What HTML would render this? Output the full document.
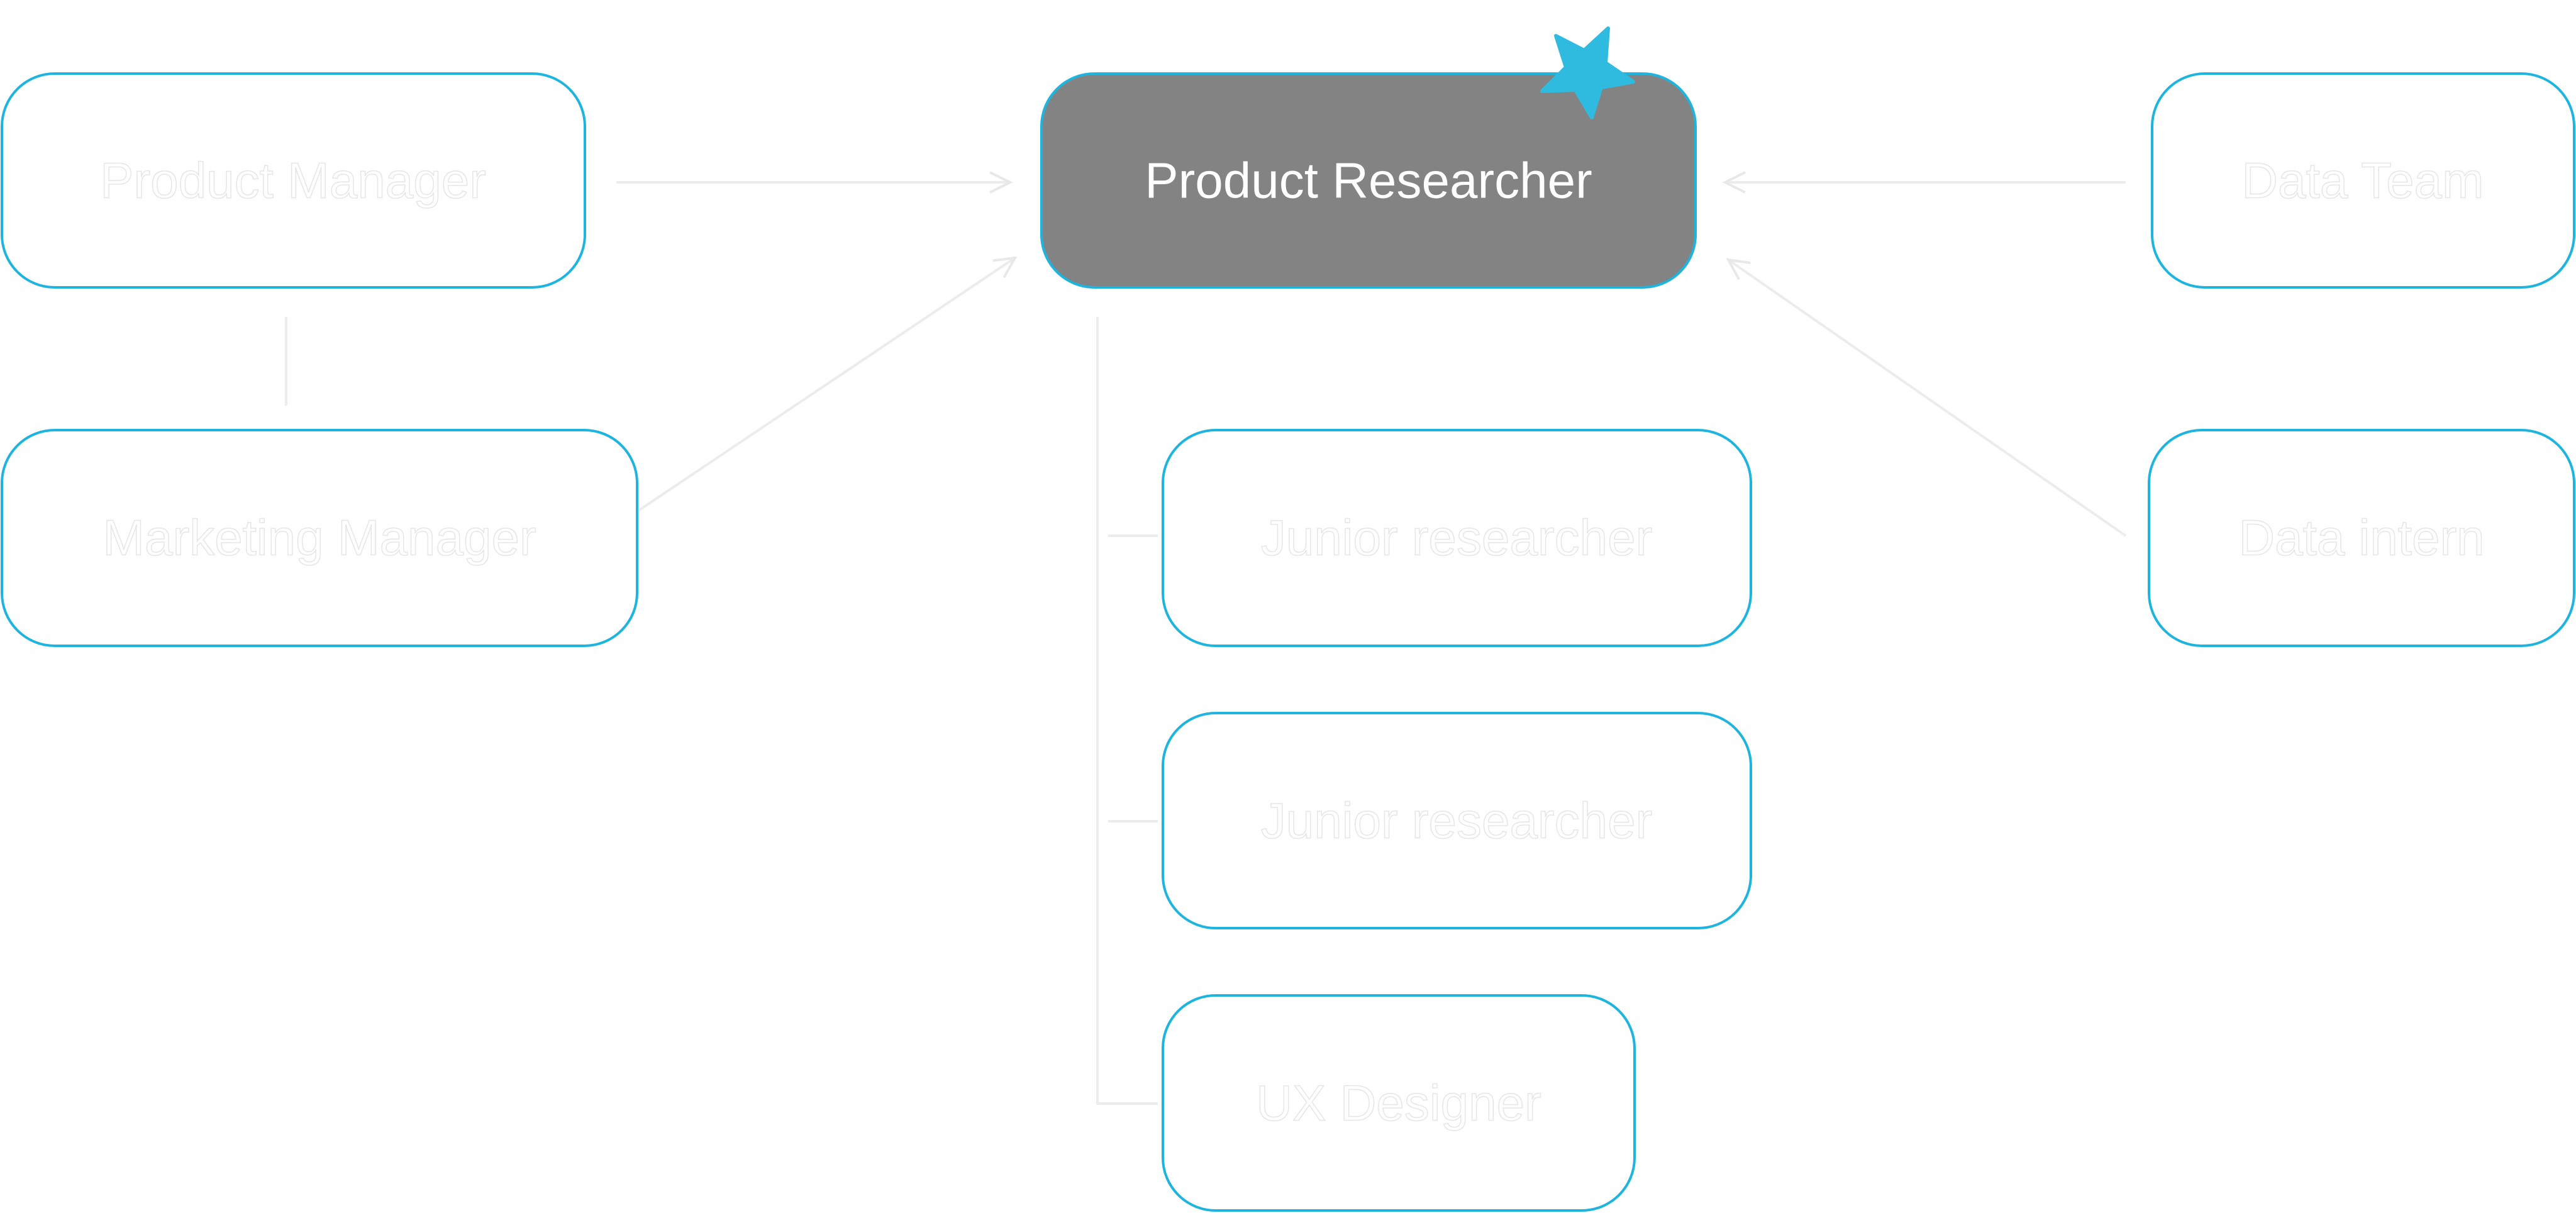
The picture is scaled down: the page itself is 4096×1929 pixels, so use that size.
<!DOCTYPE html>
<html><head><meta charset="utf-8">
<style>
html,body{margin:0;padding:0;background:#fff;}
svg{display:block;}
text{font-family:"Liberation Sans",sans-serif;font-size:80px;text-anchor:middle;dominant-baseline:central;}
.lbl{fill:#fff;stroke:#e6e6e6;stroke-width:1.5px;}
</style></head>
<body>
<svg width="4096" height="1929" viewBox="0 0 4096 1929" xmlns="http://www.w3.org/2000/svg">
<defs>
<marker id="ah" viewBox="0 0 20 20" refX="18" refY="10" markerWidth="40" markerHeight="40" markerUnits="userSpaceOnUse" orient="auto">
<path d="M2,2 L18,10 L2,18" fill="none" stroke="#e8e8e8" stroke-width="2"/>
</marker>
</defs>
<g stroke="#ececec" stroke-width="4" fill="none">
<line x1="980" y1="290" x2="1606" y2="290" marker-end="url(#ah)"/>
<line x1="3380" y1="290" x2="2743" y2="290" marker-end="url(#ah)"/>
<line x1="455" y1="504" x2="455" y2="645"/>
<line x1="987" y1="831" x2="1614" y2="410" marker-end="url(#ah)"/>
<line x1="3380" y1="852" x2="2748" y2="413" marker-end="url(#ah)"/>
<polyline points="1745,504 1745,1755 1841,1755"/>
<line x1="1762" y1="852" x2="1841" y2="852"/>
<line x1="1762" y1="1306" x2="1841" y2="1306"/>
</g>
<g stroke="#1eb4e0" stroke-width="4" fill="#fff">
<rect x="3" y="117" width="927" height="340" rx="84"/>
<rect x="3" y="684" width="1010" height="343" rx="84"/>
<rect x="1656" y="117" width="1040" height="340" rx="84" fill="#838383"/>
<rect x="3422" y="117" width="671" height="340" rx="84"/>
<rect x="3417" y="684" width="676" height="343" rx="84"/>
<rect x="1849" y="684" width="935" height="343" rx="84"/>
<rect x="1849" y="1134" width="935" height="342" rx="84"/>
<rect x="1849" y="1583" width="750" height="342" rx="84"/>
</g>
<polygon points="2557,45 2553,100 2597,130 2546,139 2531,187 2505,143 2452,145 2490,107 2474,57 2519,80" fill="#2fbbe0" stroke="#2fbbe0" stroke-width="6" stroke-linejoin="round"/>
<text class="lbl" x="466" y="287">Product Manager</text>
<text class="lbl" x="508" y="855">Marketing Manager</text>
<text x="2176" y="287" fill="#fff">Product Researcher</text>
<text class="lbl" x="3757" y="287">Data Team</text>
<text class="lbl" x="3755" y="855">Data intern</text>
<text class="lbl" x="2316" y="855">Junior researcher</text>
<text class="lbl" x="2316" y="1305">Junior researcher</text>
<text class="lbl" x="2224" y="1754">UX Designer</text>
</svg>
</body></html>
